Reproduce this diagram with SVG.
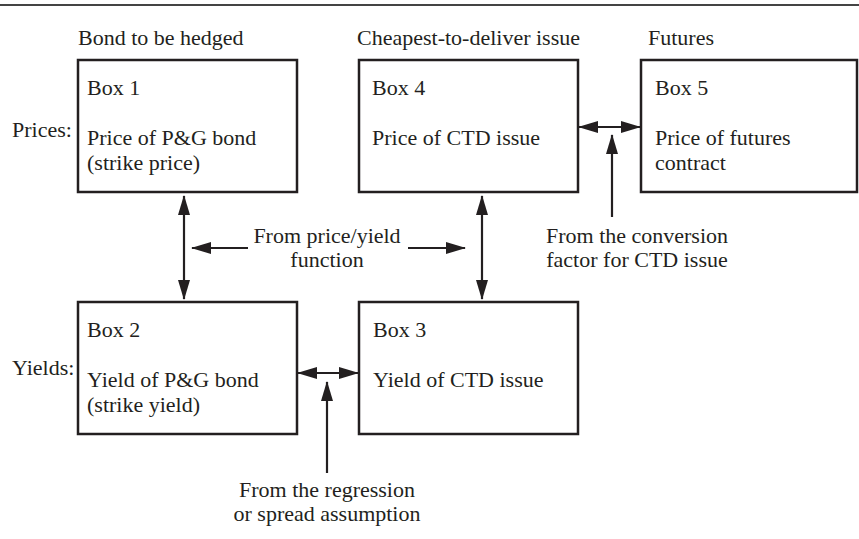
<svg xmlns="http://www.w3.org/2000/svg" width="859" height="539" viewBox="0 0 859 539">
<defs>
<style>
text{font-family:"Liberation Serif","Times New Roman",serif;font-size:22px;fill:#231f20}
.box{fill:#fff;stroke:#231f20;stroke-width:2.5}
.c{text-anchor:middle}
.ln{stroke:#231f20;stroke-width:2.2;fill:none}
</style>
<marker id="ah" markerUnits="userSpaceOnUse" markerWidth="20" markerHeight="12" refX="19" refY="6" orient="auto-start-reverse" viewBox="0 0 20 12">
<path d="M0,0 L20,6 L0,12 Z" fill="#231f20"/>
</marker>
</defs>
<rect width="859" height="539" fill="#fff"/>
<line x1="0" y1="5" x2="859" y2="5" stroke="#444" stroke-width="2"/>
<g id="headers">
<text x="78" y="45">Bond to be hedged</text>
<text x="357" y="45">Cheapest-to-deliver issue</text>
<text x="648" y="45">Futures</text>
<text x="12" y="137">Prices:</text>
<text x="12" y="375">Yields:</text>
</g>
<g id="box1">
<rect class="box" x="78" y="60" width="219" height="132"/>
<text x="87" y="95">Box 1</text>
<text x="87" y="145">Price of P&amp;G bond</text>
<text x="87" y="170">(strike price)</text>
</g>
<g id="box4">
<rect class="box" x="359" y="60" width="219" height="132"/>
<text x="372" y="95">Box 4</text>
<text x="372" y="145">Price of CTD issue</text>
</g>
<g id="box5">
<rect class="box" x="641" y="60" width="216" height="132"/>
<text x="655" y="95">Box 5</text>
<text x="655" y="145">Price of futures</text>
<text x="655" y="170">contract</text>
</g>
<g id="box2">
<rect class="box" x="78" y="302" width="219" height="132"/>
<text x="87" y="337">Box 2</text>
<text x="87" y="387">Yield of P&amp;G bond</text>
<text x="87" y="412">(strike yield)</text>
</g>
<g id="box3">
<rect class="box" x="359" y="302" width="219" height="132"/>
<text x="373" y="337">Box 3</text>
<text x="373" y="387">Yield of CTD issue</text>
</g>
<g id="labels">
<text class="c" x="327" y="243">From price/yield</text>
<text class="c" x="327" y="267">function</text>
<text class="c" x="637" y="243">From the conversion</text>
<text class="c" x="637" y="267">factor for CTD issue</text>
<text class="c" x="327" y="497">From the regression</text>
<text class="c" x="327" y="521">or spread assumption</text>
</g>
<g id="connectors">
<line class="ln" x1="184" y1="196" x2="184" y2="299" marker-start="url(#ah)" marker-end="url(#ah)"/>
<line class="ln" x1="482" y1="196" x2="482" y2="299" marker-start="url(#ah)" marker-end="url(#ah)"/>
<line class="ln" x1="248" y1="248" x2="192" y2="248" marker-end="url(#ah)"/>
<line class="ln" x1="408" y1="248" x2="465" y2="248" marker-end="url(#ah)"/>
<line class="ln" x1="579" y1="127" x2="640" y2="127" marker-start="url(#ah)" marker-end="url(#ah)"/>
<line class="ln" x1="612" y1="217" x2="612" y2="135" marker-end="url(#ah)"/>
<line class="ln" x1="298" y1="373" x2="358" y2="373" marker-start="url(#ah)" marker-end="url(#ah)"/>
<line class="ln" x1="327" y1="473" x2="327" y2="382" marker-end="url(#ah)"/>
</g>
</svg>
